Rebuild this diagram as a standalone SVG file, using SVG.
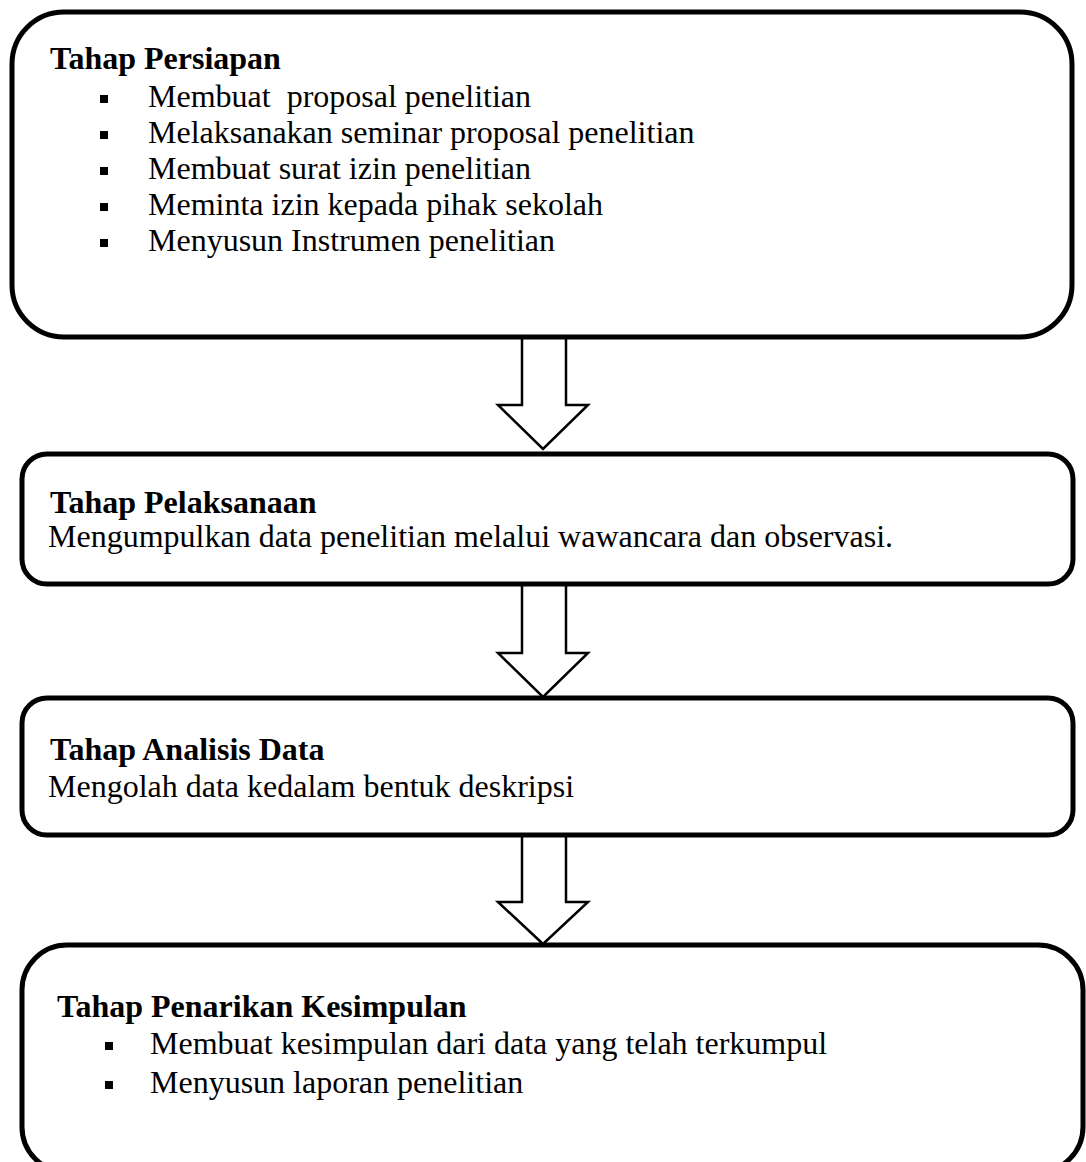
<svg xmlns="http://www.w3.org/2000/svg" width="1086" height="1162" viewBox="0 0 1086 1162">
<style>
.box{fill:#fff;stroke:#000;stroke-width:5}
.arr{fill:#fff;stroke:#000;stroke-width:2.5;stroke-linejoin:miter}
text{font-family:"Liberation Serif","Times New Roman",serif;font-size:32px;fill:#000}
.t{font-weight:bold}
.b{fill:#000}
</style>
<rect width="1086" height="1162" fill="#fff"/>
<g id="connectors">
<path class="arr" d="M522,339 V405 H498 L543,449 L588,405 H566 V339"/>
<path class="arr" d="M522,586 V653 H498 L543,697 L588,653 H566 V586"/>
<path class="arr" d="M522,837 V902 H498 L543,944 L588,902 H566 V837"/>
</g>
<g id="persiapan">
<rect class="box" x="12" y="12" width="1060" height="325" rx="52" ry="52"/>
<text class="t" x="50" y="69">Tahap Persiapan</text>
<rect class="b" x="100" y="95" width="8" height="8"/>
<text x="148" y="107" xml:space="preserve">Membuat  proposal penelitian</text>
<rect class="b" x="100" y="131" width="8" height="8"/>
<text x="148" y="143">Melaksanakan seminar proposal penelitian</text>
<rect class="b" x="100" y="167" width="8" height="8"/>
<text x="148" y="179">Membuat surat izin penelitian</text>
<rect class="b" x="100" y="203" width="8" height="8"/>
<text x="148" y="215">Meminta izin kepada pihak sekolah</text>
<rect class="b" x="100" y="239" width="8" height="8"/>
<text x="148" y="251">Menyusun Instrumen penelitian</text>
</g>
<g id="pelaksanaan">
<rect class="box" x="22" y="454" width="1051" height="130" rx="25" ry="25"/>
<text class="t" x="50" y="513">Tahap Pelaksanaan</text>
<text x="48" y="547">Mengumpulkan data penelitian melalui wawancara dan observasi.</text>
</g>
<g id="analisis">
<rect class="box" x="22" y="698" width="1051" height="137" rx="25" ry="25"/>
<text class="t" x="50" y="760">Tahap Analisis Data</text>
<text x="48" y="797">Mengolah data kedalam bentuk deskripsi</text>
</g>
<g id="kesimpulan">
<rect class="box" x="22" y="945" width="1061" height="227" rx="45" ry="45"/>
<text class="t" x="57" y="1017">Tahap Penarikan Kesimpulan</text>
<rect class="b" x="105" y="1042" width="8" height="8"/>
<text x="150" y="1054">Membuat kesimpulan dari data yang telah terkumpul</text>
<rect class="b" x="105" y="1081" width="8" height="8"/>
<text x="150" y="1093">Menyusun laporan penelitian</text>
</g>
</svg>
